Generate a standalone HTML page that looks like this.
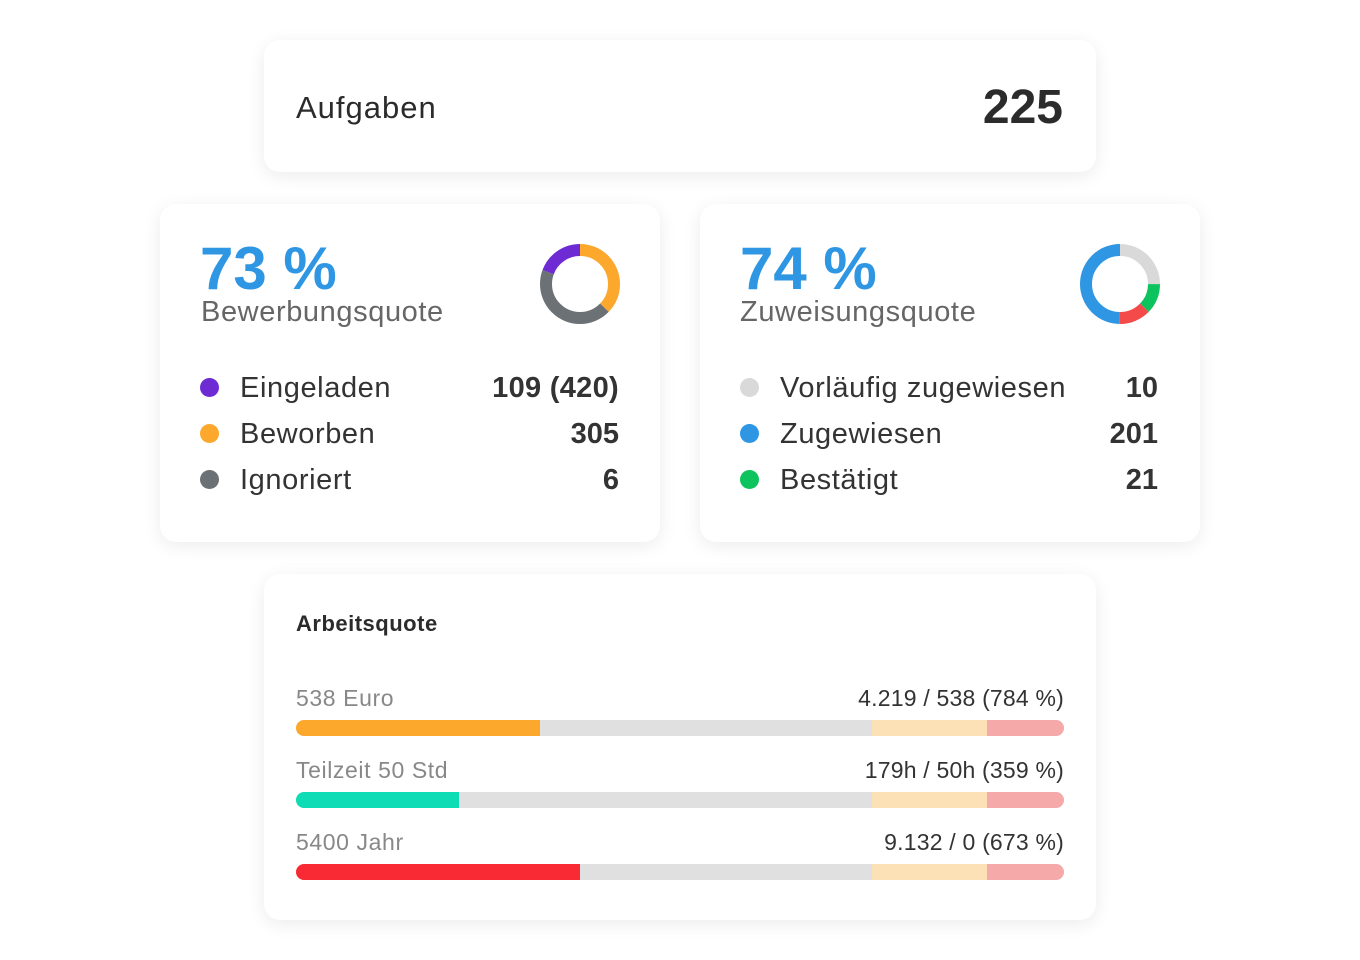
<!DOCTYPE html>
<html><head><meta charset="utf-8"><style>
body{margin:0;width:1360px;height:960px;background:#fff;font-family:"Liberation Sans",sans-serif;position:relative;overflow:hidden;color:#333}
.card{position:absolute;background:#fff;border-radius:16px;box-shadow:0 4px 18px rgba(0,0,0,0.08)}
.abs{position:absolute;white-space:nowrap}
.dot{position:absolute;width:19px;height:19px;border-radius:50%}
.bar{position:absolute;left:296px;width:768px;height:16px;border-radius:8px;overflow:hidden;background:#e0e0e0}
.bar div{position:absolute;top:0;height:16px}
.l{letter-spacing:0.6px}
</style></head><body>
<div class="card" style="left:264px;top:40px;width:832px;height:132px"></div>
<div class="abs" style="left:296px;top:90px;font-size:31px;color:#2b2b2b;letter-spacing:1px;font-weight:500">Aufgaben</div>
<div class="abs" style="right:297px;top:80px;font-size:48px;font-weight:bold;color:#2b2b2b">225</div>

<div class="card" style="left:160px;top:204px;width:500px;height:338px"></div>
<div class="abs" style="left:200px;top:234px;font-size:60px;font-weight:bold;color:#2e96e3">73 %</div>
<div class="abs l" style="left:201px;top:296px;font-size:29px;color:#666">Bewerbungsquote</div>
<svg class="abs" style="left:540px;top:244px" width="80" height="80" viewBox="0 0 80 80">
<g transform="rotate(-90 40 40)" fill="none" stroke-width="12">
<circle cx="40" cy="40" r="34" stroke="#fba82d" stroke-dasharray="79.5 134.1"/>
<circle cx="40" cy="40" r="34" stroke="#6c7175" stroke-dasharray="92.6 121" stroke-dashoffset="-79.5"/>
<circle cx="40" cy="40" r="34" stroke="#6e2bd4" stroke-dasharray="41.5 172.1" stroke-dashoffset="-172.1"/>
</g></svg>
<div class="dot" style="left:200px;top:378px;background:#6e2bd4"></div>
<div class="dot" style="left:200px;top:424px;background:#fba82d"></div>
<div class="dot" style="left:200px;top:470px;background:#6c7175"></div>
<div class="abs l" style="left:240px;top:372px;font-size:29px">Eingeladen</div>
<div class="abs l" style="left:240px;top:418px;font-size:29px">Beworben</div>
<div class="abs l" style="left:240px;top:464px;font-size:29px">Ignoriert</div>
<div class="abs" style="right:741px;top:372px;font-size:29px;font-weight:bold;letter-spacing:0.3px">109 (420)</div>
<div class="abs" style="right:741px;top:418px;font-size:29px;font-weight:bold">305</div>
<div class="abs" style="right:741px;top:464px;font-size:29px;font-weight:bold">6</div>

<div class="card" style="left:700px;top:204px;width:500px;height:338px"></div>
<div class="abs" style="left:740px;top:234px;font-size:60px;font-weight:bold;color:#2e96e3">74 %</div>
<div class="abs l" style="left:740px;top:296px;font-size:29px;color:#666">Zuweisungsquote</div>
<svg class="abs" style="left:1080px;top:244px" width="80" height="80" viewBox="0 0 80 80">
<g transform="rotate(-90 40 40)" fill="none" stroke-width="12">
<circle cx="40" cy="40" r="34" stroke="#d9d9d9" stroke-dasharray="53.4 160.2"/>
<circle cx="40" cy="40" r="34" stroke="#0cc35d" stroke-dasharray="26.1 187.5" stroke-dashoffset="-53.4"/>
<circle cx="40" cy="40" r="34" stroke="#f44a4a" stroke-dasharray="27.3 186.3" stroke-dashoffset="-79.5"/>
<circle cx="40" cy="40" r="34" stroke="#2e96e3" stroke-dasharray="106.8 106.8" stroke-dashoffset="-106.8"/>
</g></svg>
<div class="dot" style="left:740px;top:378px;background:#d9d9d9"></div>
<div class="dot" style="left:740px;top:424px;background:#2e96e3"></div>
<div class="dot" style="left:740px;top:470px;background:#0cc35d"></div>
<div class="abs l" style="left:780px;top:372px;font-size:29px">Vorläufig zugewiesen</div>
<div class="abs l" style="left:780px;top:418px;font-size:29px">Zugewiesen</div>
<div class="abs l" style="left:780px;top:464px;font-size:29px">Bestätigt</div>
<div class="abs" style="right:202px;top:372px;font-size:29px;font-weight:bold">10</div>
<div class="abs" style="right:202px;top:418px;font-size:29px;font-weight:bold">201</div>
<div class="abs" style="right:202px;top:464px;font-size:29px;font-weight:bold">21</div>

<div class="card" style="left:264px;top:574px;width:832px;height:346px"></div>
<div class="abs" style="left:296px;top:611px;font-size:22px;font-weight:bold;color:#2b2b2b;letter-spacing:0.5px">Arbeitsquote</div>
<div class="abs l" style="left:296px;top:685px;font-size:23px;color:#888">538 Euro</div>
<div class="abs" style="right:296px;top:685px;font-size:23px;color:#333;letter-spacing:0.2px">4.219 / 538 (784 %)</div>
<div class="bar" style="top:720px"><div style="left:0;width:244px;background:#fba82d"></div><div style="left:576px;width:115px;background:#fde1b6"></div><div style="left:691px;width:77px;background:#f5a9a9"></div></div>
<div class="abs l" style="left:296px;top:757px;font-size:23px;color:#888">Teilzeit 50 Std</div>
<div class="abs" style="right:296px;top:757px;font-size:23px;color:#333;letter-spacing:0.2px">179h / 50h (359 %)</div>
<div class="bar" style="top:792px"><div style="left:0;width:163px;background:#0ddcb4"></div><div style="left:576px;width:115px;background:#fde1b6"></div><div style="left:691px;width:77px;background:#f5a9a9"></div></div>
<div class="abs l" style="left:296px;top:829px;font-size:23px;color:#888">5400 Jahr</div>
<div class="abs" style="right:296px;top:829px;font-size:23px;color:#333;letter-spacing:0.2px">9.132 / 0 (673 %)</div>
<div class="bar" style="top:864px"><div style="left:0;width:284px;background:#f92a34"></div><div style="left:576px;width:115px;background:#fde1b6"></div><div style="left:691px;width:77px;background:#f5a9a9"></div></div>
</body></html>
